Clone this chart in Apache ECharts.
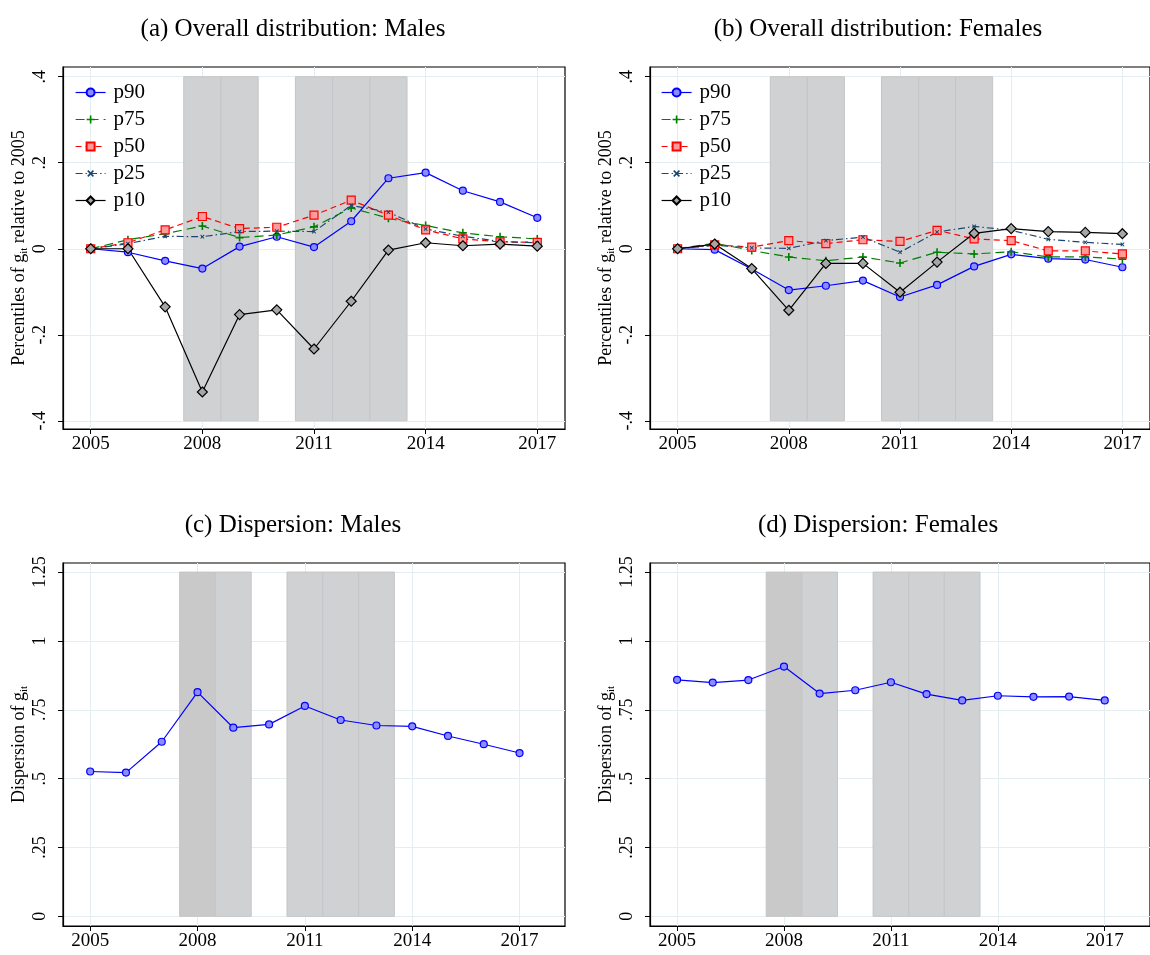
<!DOCTYPE html>
<html><head><meta charset="utf-8">
<script src="https://cdn.jsdelivr.net/npm/echarts@6/dist/echarts.min.js"></script>
<style>html,body{margin:0;padding:0;background:#fff}#c{width:1150px;height:955px}</style>
</head><body><div id="c"></div>
<script>
const years = [2005,2006,2007,2008,2009,2010,2011,2012,2013,2014,2015,2016,2017];
const xTicks = [2005,2008,2011,2014,2017];
const pctTicks = [-0.4,-0.2,0,0.2,0.4];
const dispTicks = [0,0.25,0.5,0.75,1,1.25];
const bands = [[2007.5,2008.5],[2008.5,2009.5],[2010.5,2011.5],[2011.5,2012.5],[2012.5,2013.5]];

// (a) Males
const maleP90 = [0,-0.008,-0.028,-0.046,0.005,0.028,0.004,0.064,0.164,0.177,0.135,0.109,0.072];
const maleP75 = [0,0.021,0.035,0.053,0.026,0.032,0.051,0.095,0.071,0.054,0.037,0.028,0.023];
const maleP50 = [0,0.014,0.044,0.075,0.047,0.050,0.078,0.113,0.078,0.044,0.023,0.016,0.015];
const maleP25 = [0,0.012,0.029,0.028,0.040,0.041,0.040,0.101,0.085,0.046,0.029,0.017,0.014];
const maleP10 = [0,0,-0.135,-0.333,-0.153,-0.142,-0.233,-0.122,-0.003,0.014,0.007,0.011,0.006];
// (b) Females
const femP90 = [0,-0.002,-0.047,-0.096,-0.086,-0.074,-0.112,-0.084,-0.041,-0.013,-0.023,-0.025,-0.043];
const femP75 = [0,0.013,-0.004,-0.019,-0.028,-0.019,-0.033,-0.008,-0.012,-0.007,-0.019,-0.019,-0.024];
const femP50 = [0,0.009,0.004,0.019,0.012,0.021,0.017,0.043,0.023,0.019,-0.005,-0.005,-0.012];
const femP25 = [0,0.008,0.002,0.001,0.019,0.027,-0.008,0.039,0.052,0.043,0.022,0.015,0.010];
const femP10 = [0,0.011,-0.046,-0.143,-0.034,-0.034,-0.101,-0.031,0.036,0.047,0.040,0.038,0.035];
// (c),(d) Dispersion
const maleDisp = [0.526,0.522,0.634,0.814,0.685,0.697,0.764,0.713,0.693,0.690,0.655,0.625,0.593];
const femDisp = [0.859,0.849,0.858,0.907,0.809,0.821,0.850,0.807,0.784,0.801,0.797,0.798,0.784];

const titles = ['(a) Overall distribution: Males','(b) Overall distribution: Females','(c) Dispersion: Males','(d) Dispersion: Females'];

const FONT = 'Liberation Serif';
const pair = (arr) => years.map((y,i)=>[y,arr[i]]);
const fmt = v => { let s = String(+(+v).toFixed(2)); return s.replace(/^(-?)0\./,'$1.'); };

const grids = [
  {left:63, top:67, width:502, height:362},
  {left:650, top:67, width:502, height:362},
  {left:63, top:563, width:502, height:363},
  {left:650, top:563, width:502, height:363}
].map(g => Object.assign({show:true, borderColor:'#000', borderWidth:1.2, backgroundColor:'#fff', containLabel:false}, g));

const xRanges = [[2004.255,2017.745],[2004.255,2017.745],[2004.24,2018.27],[2004.24,2018.27]];
const yRanges = [[-0.419,0.4226],[-0.419,0.4226],[-0.035,1.283],[-0.035,1.283]];

const xAxes = xRanges.map((r,i)=>({
  type:'value', gridIndex:i, min:r[0], max:r[1],
  axisLine:{show:true, onZero:false, lineStyle:{color:'#000', width:1.2}},
  axisTick:{show:true, customValues:xTicks, length:5, lineStyle:{color:'#000'}},
  axisLabel:{customValues:xTicks, fontFamily:FONT, fontSize:19, color:'#000', margin:6, formatter:v=>String(v)},
  splitLine:{show:true, lineStyle:{color:'#e4eef0', width:1}}
}));

const yName = i => i<2 ? '{n|Percentiles of g}{sub|it}{n| relative to 2005}' : '{n|Dispersion of g}{sub|it}';
const yAxes = yRanges.map((r,i)=>({
  type:'value', gridIndex:i, min:r[0], max:r[1],
  name: yName(i), nameLocation:'middle', nameGap:35,
  nameTextStyle:{fontFamily:FONT, color:'#000', rich:{
    n:{fontFamily:FONT, fontSize:18, color:'#000', lineHeight:18, verticalAlign:'top'},
    sub:{fontFamily:FONT, fontSize:11, color:'#000', lineHeight:11, padding:[9,0,0,0], verticalAlign:'top'}
  }},
  axisLine:{show:true, onZero:false, lineStyle:{color:'#000', width:1.2}},
  axisTick:{show:true, customValues: i<2?pctTicks:dispTicks, length:5, lineStyle:{color:'#000'}},
  axisLabel:{customValues: i<2?pctTicks:dispTicks, rotate:90, fontFamily:FONT, fontSize:18, color:'#000', margin:14, formatter:fmt},
  splitLine:{show:true, lineStyle:{color:'#e4eef0', width:1}}
}));

const bandSeries = i => ({
  type:'line', xAxisIndex:i, yAxisIndex:i, data:[], silent:true, z:1,
  markArea:{silent:true, label:{show:false},
    data: bands.map((b,k)=>[
      {xAxis:b[0], yAxis: i<2?0.4:1.25, itemStyle:{color: (i>=2 && k===0)?'#c9c9c9':'#d0d1d3', borderColor:'#c4c5c7', borderWidth:1}},
      {xAxis:b[1], yAxis: i<2?-0.4:0}
    ])}
});

const styles = {
  p90:{symbol:'circle', symbolSize:7, itemStyle:{color:'#8c8cff', borderColor:'#0000ff', borderWidth:1.2}, lineStyle:{color:'#0000ff', width:1.2, type:'solid'}},
  p75:{symbol:'path://M4,0 L6,0 L6,4 L10,4 L10,6 L6,6 L6,10 L4,10 L4,6 L0,6 L0,4 L4,4 Z', symbolSize:8, itemStyle:{color:'#008000'}, lineStyle:{color:'#008000', width:1.2, type:[9,5]}},
  p50:{symbol:'rect', symbolSize:8, itemStyle:{color:'#ff9a9a', borderColor:'#ff0000', borderWidth:1.2}, lineStyle:{color:'#ff0000', width:1.2, type:[6,4]}},
  p25:{symbol:'path://M4,0 L6,0 L6,4 L10,4 L10,6 L6,6 L6,10 L4,10 L4,6 L0,6 L0,4 L4,4 Z', symbolRotate:45, symbolSize:5, itemStyle:{color:'#1a476f'}, lineStyle:{color:'#1a476f', width:1.2, type:[7,3,1.5,3]}},
  p10:{symbol:'diamond', symbolSize:10, itemStyle:{color:'#a6a6a6', borderColor:'#000', borderWidth:1.2}, lineStyle:{color:'#000', width:1.2, type:'solid'}}
};

const mk = (name, arr, i) => Object.assign({type:'line', name, xAxisIndex:i, yAxisIndex:i, data:pair(arr), z:3, animation:false, showSymbol:true}, JSON.parse(JSON.stringify(styles[name])));

const series = [bandSeries(0), bandSeries(1), bandSeries(2), bandSeries(3)];
[['p90',maleP90,femP90],['p75',maleP75,femP75],['p50',maleP50,femP50],['p25',maleP25,femP25],['p10',maleP10,femP10]].forEach(([n,m,f])=>{
  series.push(mk(n,m,0)); series.push(mk(n,f,1));
});
series.push(Object.assign({type:'line', name:'dispM', xAxisIndex:2, yAxisIndex:2, data:pair(maleDisp), z:3}, JSON.parse(JSON.stringify(styles.p90))));
series.push(Object.assign({type:'line', name:'dispF', xAxisIndex:3, yAxisIndex:3, data:pair(femDisp), z:3}, JSON.parse(JSON.stringify(styles.p90))));

const legendBase = {orient:'vertical', data:['p90','p75','p50','p25','p10'], itemWidth:30, itemHeight:10, itemGap:6,
  lineStyle:{width:1.2},
  textStyle:{fontFamily:FONT, fontSize:21, color:'#000', padding:[0,0,0,3]}, selectedMode:false};

const chart = echarts.init(document.getElementById('c'), null, {renderer:'canvas'});
chart.setOption({
  animation:false,
  backgroundColor:'#fff',
  title: titles.map((t,i)=>({text:t, left: i%2===0?288:873, top: i<2?12:508, textAlign:'center',
    textStyle:{fontFamily:FONT, fontSize:25, fontWeight:'normal', color:'#000'}})),
  legend:[Object.assign({left:70, top:77}, legendBase), Object.assign({left:656, top:77}, legendBase)],
  grid: grids, xAxis: xAxes, yAxis: yAxes, series
});
</script></body></html>
